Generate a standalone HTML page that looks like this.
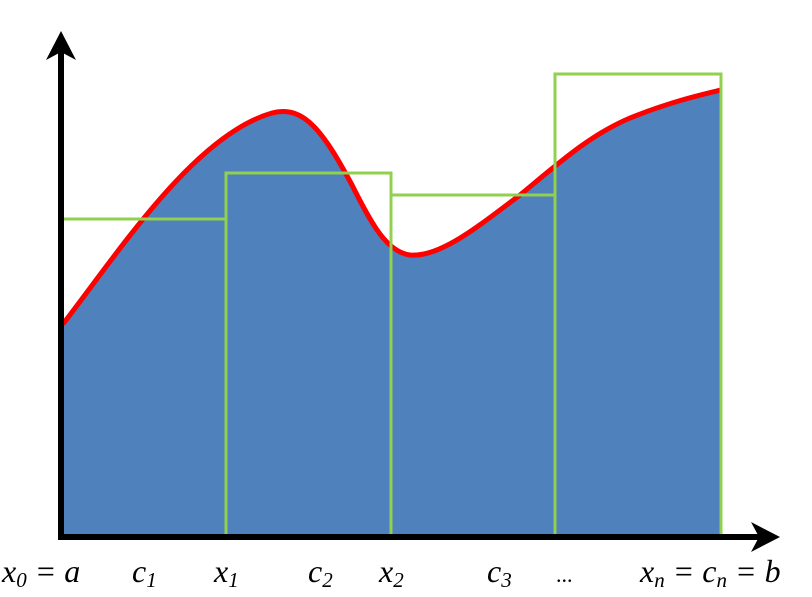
<!DOCTYPE html>
<html><head><style>body{margin:0;background:#fff}svg{display:block}</style></head><body>
<svg width="812" height="597" viewBox="0 0 812 597" xmlns="http://www.w3.org/2000/svg">
<path d="M63,324 C120,250 195,135 272,113 C305,104 325,135 352,185 C372,225 387,252 410,255 C440,258 480,225 520,195 C560,162 590,135 630,118 C670,102 700,95 721,90 L721,535 L63,535 Z" fill="#4f81bd"/>
<path d="M63,324 C120,250 195,135 272,113 C305,104 325,135 352,185 C372,225 387,252 410,255 C440,258 480,225 520,195 C560,162 590,135 630,118 C670,102 700,95 721,90" fill="none" stroke="#ff0000" stroke-width="5"/>
<g fill="none" stroke="#92d050" stroke-width="3">
<path d="M63,219 H226 V535"/>
<path d="M226,535 V173 H391 V535"/>
<path d="M391,195 H555 V535"/>
<path d="M555,535 V74 H721 V535"/>
</g>
<line x1="61" y1="540" x2="61" y2="50" stroke="#000" stroke-width="6"/>
<polygon points="61,31 46,60 61,52 76,60" fill="#000"/>
<line x1="58" y1="537" x2="762" y2="537" stroke="#000" stroke-width="6"/>
<polygon points="780,537 751,522 759,537 751,552" fill="#000"/>
<g font-family="Liberation Serif, serif" font-style="italic" font-size="32" fill="#000">
<text x="2" y="582">x<tspan font-size="21" dy="5">0</tspan><tspan dy="-5"> = a</tspan></text>
<text x="132" y="582">c<tspan font-size="21" dy="5">1</tspan></text>
<text x="214" y="582">x<tspan font-size="21" dy="5">1</tspan></text>
<text x="308" y="582">c<tspan font-size="21" dy="5">2</tspan></text>
<text x="379" y="582">x<tspan font-size="21" dy="5">2</tspan></text>
<text x="487" y="582">c<tspan font-size="21" dy="5">3</tspan></text>
<text x="556" y="582" font-style="normal" font-size="22">...</text>
<text x="640" y="582">x<tspan font-size="21" dy="5">n</tspan><tspan dy="-5"> = c</tspan><tspan font-size="21" dy="5">n</tspan><tspan dy="-5"> = b</tspan></text>
</g>
</svg>
</body></html>
